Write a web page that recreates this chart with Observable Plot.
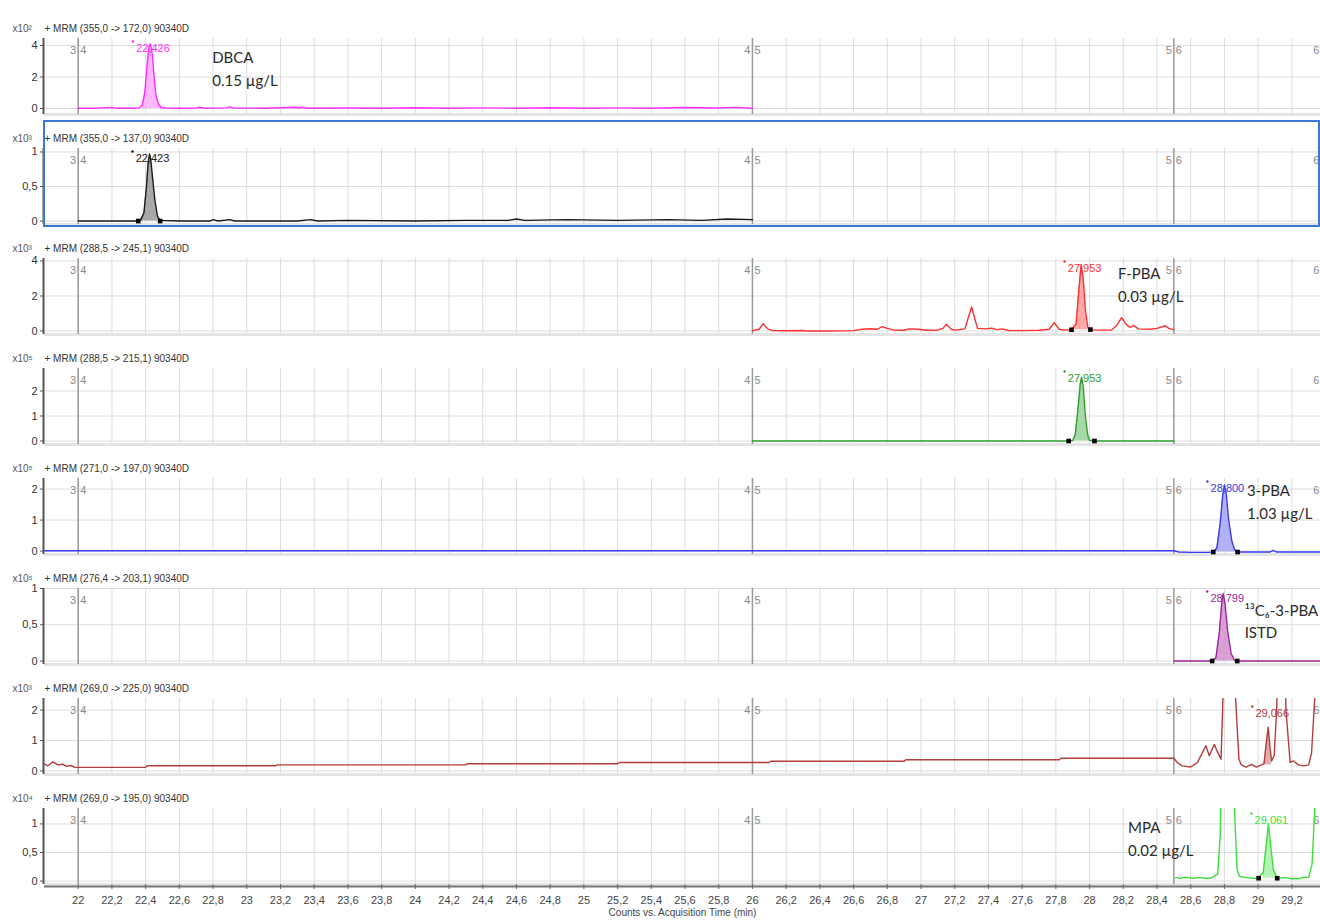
<!DOCTYPE html>
<html><head><meta charset="utf-8">
<script src="https://cdn.jsdelivr.net/npm/d3@7"></script>
<script src="https://cdn.jsdelivr.net/npm/@observablehq/plot@0.6"></script>
<style>
body{margin:0;background:#fff;font-family:"Liberation Sans",Arial,sans-serif;}
#chart{position:relative;width:1320px;height:921px;padding-top:10px;box-sizing:border-box;overflow:hidden}
#chart svg{display:block;overflow:visible}
.sel{position:absolute;left:43px;top:120px;width:1277px;height:107px;border:2px solid #3b78d8;box-sizing:border-box;pointer-events:none}
</style></head><body><div id="chart"></div><script>
// ---- data ----
const xTicks = [22,22.2,22.4,22.6,22.8,23,23.2,23.4,23.6,23.8,24,24.2,24.4,24.6,24.8,25,25.2,25.4,25.6,25.8,26,26.2,26.4,26.6,26.8,27,27.2,27.4,27.6,27.8,28,28.2,28.4,28.6,28.8,29,29.2];
const segBounds = [22, 26, 28.5, 29.375];
const segLeft = ["3","4","5","6"];
const segRight = ["4","5","6",""];
const headers = ["+ MRM (355,0 -> 172,0) 90340D","+ MRM (355,0 -> 137,0) 90340D","+ MRM (288,5 -> 245,1) 90340D","+ MRM (288,5 -> 215,1) 90340D","+ MRM (271,0 -> 197,0) 90340D","+ MRM (276,4 -> 203,1) 90340D","+ MRM (269,0 -> 225,0) 90340D","+ MRM (269,0 -> 195,0) 90340D"];
const exponents = ["²","³","³","⁵","⁵","⁵","³","⁴"];
const yTicks = [[0,2,4],[0,0.5,1],[0,2,4],[0,1,2],[0,1,2],[0,0.5,1],[0,1,2],[0,0.5,1]];
const yDomains = [[-0.38,4.44],[-0.05,1.05],[-0.2,4.14],[-0.14,2.9],[-0.11,2.34],[-0.048,1.0],[-0.115,2.38],[-0.06,1.27]];

const dbcaTrace = [[22.0,0.02],[22.1,0.02],[22.2,0.07],[22.22,0.02],[22.3,0.02],[22.36,0.03],[22.38,0.2],[22.395,1.0],[22.41,2.9],[22.42,3.9],[22.428,4.1],[22.44,3.4],[22.45,2.0],[22.46,0.9],[22.475,0.3],[22.49,0.08],[22.52,0.03],[22.6,0.02],[22.7,0.03],[22.72,0.08],[22.75,0.02],[22.88,0.04],[22.9,0.1],[22.92,0.03],[23.1,0.02],[23.29,0.08],[23.31,0.03],[23.33,0.08],[23.36,0.02],[23.6,0.03],[23.8,0.02],[24.0,0.05],[24.2,0.02],[24.4,0.04],[24.6,0.02],[24.8,0.05],[25.0,0.02],[25.2,0.04],[25.4,0.02],[25.6,0.06],[25.8,0.03],[25.9,0.07],[26.0,0.02]];
const dbcaQualTrace = [[22.0,0.0],[22.2,0.0],[22.35,0.0],[22.37,0.01],[22.39,0.12],[22.405,0.5],[22.415,0.85],[22.423,0.97],[22.43,0.9],[22.44,0.65],[22.455,0.3],[22.47,0.07],[22.486,0.01],[22.6,0.0],[22.78,0.0],[22.8,0.02],[22.83,0.0],[22.9,0.02],[22.93,0.0],[23.3,0.0],[23.38,0.02],[23.42,0.0],[23.6,0.01],[24.0,0.0],[24.3,0.01],[24.55,0.01],[24.6,0.03],[24.65,0.01],[24.9,0.02],[25.2,0.01],[25.5,0.02],[25.7,0.01],[25.85,0.03],[26.0,0.02]];
const fpbaTrace = [[26.0,0.02],[26.04,0.1],[26.063,0.42],[26.09,0.12],[26.12,0.02],[26.2,0.01],[26.3,0.03],[26.32,0.0],[26.45,0.0],[26.6,0.02],[26.65,0.1],[26.7,0.13],[26.74,0.1],[26.77,0.25],[26.8,0.15],[26.84,0.05],[26.9,0.04],[26.93,0.12],[26.99,0.1],[27.03,0.04],[27.1,0.06],[27.13,0.15],[27.15,0.38],[27.18,0.1],[27.2,0.05],[27.26,0.12],[27.3,1.37],[27.335,0.15],[27.38,0.12],[27.42,0.16],[27.45,0.08],[27.48,0.12],[27.52,0.03],[27.6,0.02],[27.7,0.04],[27.76,0.1],[27.79,0.48],[27.82,0.1],[27.85,0.05],[27.893,0.07],[27.92,0.4],[27.935,2.2],[27.95,3.8],[27.962,3.0],[27.975,1.2],[27.99,0.2],[28.005,0.08],[28.05,0.05],[28.13,0.06],[28.16,0.3],[28.19,0.76],[28.22,0.35],[28.24,0.2],[28.26,0.32],[28.29,0.12],[28.36,0.1],[28.4,0.15],[28.45,0.3],[28.47,0.15],[28.5,0.08]];
const fpbaQualTrace = [[26.0,0],[26.5,0],[27.0,0],[27.5,0],[27.87,0.0],[27.9,0.02],[27.915,0.25],[27.93,1.2],[27.945,2.3],[27.953,2.55],[27.962,2.2],[27.975,1.0],[27.99,0.2],[28.0,0.03],[28.03,0.0],[28.5,0]];
const pbaTrace = [[21.8,0.01],[22.5,0.01],[23.5,0.01],[24.5,0.01],[25.5,0.01],[26.5,0.01],[27.5,0.01],[28.5,0.01],[28.53,-0.03],[28.6,-0.04],[28.7,-0.04],[28.734,-0.03],[28.755,0.1],[28.775,0.9],[28.79,1.8],[28.8,2.13],[28.81,1.9],[28.825,1.0],[28.845,0.3],[28.86,0.05],[28.878,-0.03],[29.0,-0.03],[29.07,-0.03],[29.09,0.02],[29.11,-0.03],[29.2,-0.03],[29.37,-0.03]];
const istdTrace = [[28.5,0],[28.6,0],[28.7,0],[28.727,0],[28.75,0.05],[28.77,0.4],[28.785,0.82],[28.793,0.93],[28.803,0.8],[28.82,0.4],[28.84,0.1],[28.86,0.01],[28.876,0],[29.0,0],[29.2,0],[29.37,0]];
const mpaQualTrace = [[21.8,0.23],[21.82,0.17],[21.85,0.3],[21.88,0.2],[21.91,0.22],[21.93,0.15],[21.96,0.18],[21.98,0.12],[22.0,0.12],[22.4,0.12],[22.41,0.17],[23.17,0.17],[23.18,0.2],[24.3,0.2],[24.31,0.24],[25.2,0.24],[25.21,0.28],[26.1,0.28],[26.11,0.32],[26.9,0.32],[26.91,0.37],[27.82,0.37],[27.83,0.42],[28.5,0.42],[28.52,0.28],[28.55,0.17],[28.6,0.13],[28.64,0.28],[28.67,0.61],[28.69,0.83],[28.71,0.5],[28.74,0.87],[28.76,0.61],[28.78,0.39],[28.795,3.0],[28.82,9],[28.85,3.5],[28.866,2.4],[28.886,0.39],[28.9,0.2],[28.93,0.13],[28.96,0.22],[28.99,0.13],[29.02,0.2],[29.035,0.24],[29.05,1.0],[29.06,1.44],[29.07,0.78],[29.08,0.33],[29.095,0.5],[29.11,2.0],[29.125,6],[29.15,6],[29.165,2.0],[29.19,0.28],[29.21,0.33],[29.24,0.2],[29.27,0.17],[29.3,0.2],[29.317,0.6],[29.337,2.5],[29.36,6]];
const mpaTrace = [[28.51,0.06],[28.54,0.05],[28.57,0.07],[28.61,0.05],[28.65,0.06],[28.69,0.05],[28.72,0.05],[28.76,0.12],[28.775,0.8],[28.79,3],[28.82,6],[28.85,3],[28.86,1.2],[28.875,0.2],[28.89,0.08],[28.93,0.06],[28.97,0.05],[29.0,0.05],[29.03,0.15],[29.045,0.55],[29.061,1.0],[29.075,0.6],[29.09,0.2],[29.113,0.05],[29.16,0.06],[29.2,0.04],[29.24,0.04],[29.28,0.07],[29.3,0.06],[29.32,0.3],[29.335,1.2],[29.35,4]];

const traces = [dbcaTrace, dbcaQualTrace, fpbaTrace, fpbaQualTrace, pbaTrace, istdTrace, mpaQualTrace, mpaTrace];
const fillWindows = [[22.37,22.49],[22.356,22.486],[27.893,28.005],[27.876,28.029],[28.734,28.878],[28.727,28.876],[29.03,29.085],[29.003,29.113]];
const fillBase = [0, 0, 0.07, 0, -0.03, 0, 0.2, 0.05];
const markers = [[], [[22.356,0],[22.486,0]], [[27.893,0.07],[28.005,0.08]], [[27.876,0],[28.029,0]], [[28.734,-0.03],[28.878,-0.03]], [[28.727,0],[28.876,0]], [], [[29.003,0.05],[29.113,0.05]]];
const peakTimes = [22.426, 22.423, 27.953, 27.953, 28.800, 28.799, 29.066, 29.061];
const peakTexts = ["22,426","22,423","27,953","27,953","28,800","28,799","29,066","29,061"];
const lineColors = ["#ff2bff","#1a1a1a","#ff3030","#2f9f2f","#3a3af0","#a0259c","#b43c3c","#3ede3e"];
const fillColors = ["#ffb0ff","#a0a0a0","#ffa0a0","#9fd69f","#a8a8f2","#d596d1","#dba6a6","#aef0ae"];
const notes = [
  {panel:0, t:22.795, v:2.6, text:"DBCA\n0.15 µg/L"},
  {panel:2, t:28.168, v:2.71, text:"F-PBA\n0.03 µg/L"},
  {panel:4, t:28.934, v:1.63, text:"3-PBA\n1.03 µg/L"},
  {panel:5, t:28.92, v:0.57, text:"¹³C₆-3-PBA\nISTD"},
  {panel:7, t:28.228, v:0.77, text:"MPA\n0.02 µg/L"}
];
// ---- layout helpers (not data) ----
const labelDy = [6, 6, 6, 6, 6, 6, 11, 8];
const fmt = d => String(+(+d).toFixed(2)).replace(".", ",");
const chart = document.getElementById("chart");
const grid = "#dcdcdc";

traces.forEach((tr, i) => {
  const last = i === traces.length - 1;
  const [lo, hi] = fillWindows[i];
  const fillPts = tr.filter(d => d[0] >= lo && d[0] <= hi);
  const dom = yDomains[i];
  // panel 6 hides the far-right segment number behind its compound label
  const leftLabels = segLeft.map((s, k) => (i === 5 && k === 3) ? "" : s);
  const marks = [
    Plot.ruleX(xTicks, {stroke: grid}),
    Plot.ruleY(yTicks[i], {stroke: grid}),
    Plot.ruleY([dom[0]], {stroke: "#e4e4e4", strokeWidth: 3}),
    Plot.ruleX(segBounds, {stroke: "#999", strokeWidth: 1.5}),
    Plot.text(segBounds, {x: d => d, text: (d, k) => leftLabels[k], frameAnchor: "top", dy: 8, dx: -2, textAnchor: "end", fill: "#8a8a8a", fontSize: 11}),
    Plot.text(segBounds, {x: d => d, text: (d, k) => segRight[k], frameAnchor: "top", dy: 8, dx: 2, textAnchor: "start", fill: "#8a8a8a", fontSize: 11}),
    Plot.areaY(fillPts, {x: d => d[0], y1: () => fillBase[i], y2: d => d[1], fill: fillColors[i], fillOpacity: 0.9, clip: true}),
    Plot.line(tr, {x: d => d[0], y: d => d[1], stroke: lineColors[i], strokeWidth: 1.4, clip: true}),
    Plot.dot(markers[i], {x: d => d[0], y: d => d[1], symbol: "square", fill: "#000", r: 2.6}),
    Plot.text([peakTimes[i]], {x: d => d, text: () => peakTexts[i], frameAnchor: "top", dy: labelDy[i], dx: 3, fill: lineColors[i], fontSize: 11}),
    Plot.dot([peakTimes[i]], {x: d => d, frameAnchor: "top", dy: labelDy[i] - 3, dx: -17, r: 1.2, fill: lineColors[i], stroke: null}),
    Plot.text(notes.filter(n => n.panel === i), {x: "t", y: "v", text: "text", textAnchor: "start", lineAnchor: "middle", lineHeight: 1.5, fontSize: 15, fill: "#2b2b2b", fontFamily: "Lato, 'Open Sans', sans-serif"}),
    Plot.ruleX([21.8], {stroke: "#555", strokeWidth: 2, dx: -1}),
    Plot.axisY(yTicks[i], {tickSize: 4, tickPadding: 3, tickFormat: fmt, fontSize: 11, fill: "#333", stroke: "#555", label: null}),
    Plot.text([headers[i]], {frameAnchor: "top-left", dy: -14, textAnchor: "start", fontSize: 10, fill: "#333"}),
    Plot.text(["x10" + exponents[i]], {frameAnchor: "top-left", dy: -14, dx: -32, textAnchor: "start", fontSize: 10, fill: "#555"})
  ];
  if (last) {
    marks.push(
      Plot.ruleY([dom[0]], {stroke: "#777", strokeWidth: 2, dy: 2}),
      Plot.axisX(xTicks, {tickSize: 5, tickPadding: 7, tickFormat: fmt, fontSize: 11, fill: "#444", stroke: "#666", label: null}),
      Plot.text(["Counts vs. Acquisition Time (min)"], {frameAnchor: "bottom", dy: 31, fontSize: 10, fill: "#444"})
    );
  }
  const svg = Plot.plot({
    width: 1320, height: last ? 141 : 110,
    marginLeft: 44, marginRight: 0, marginTop: 28, marginBottom: last ? 37 : 6,
    x: {domain: [21.8, 29.37], axis: null},
    y: {domain: dom, axis: null},
    style: {background: "transparent", fontFamily: "'Liberation Sans', Arial, sans-serif"},
    marks
  });
  chart.appendChild(svg);
});
const sel = document.createElement("div");
sel.className = "sel";
chart.appendChild(sel);
</script></body></html>
